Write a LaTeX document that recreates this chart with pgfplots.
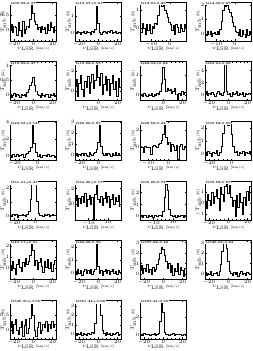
\documentclass[border=0pt]{standalone}
\usepackage{pgfplots}
\pgfplotsset{compat=1.18}
\usepgfplotslibrary{groupplots}
\usetikzlibrary{calc}
\begin{document}
\begin{tikzpicture}
\pgfplotsset{
  spec/.style={const plot mark mid, black, line width=0.45pt, mark=none},
}
\tikzset{lab/.style={anchor=north west, fill=white, inner sep=0.4pt, font=\fontsize{3.2}{3.5}\selectfont\bfseries, text=black}}
\begin{groupplot}[
  group style={group size=4 by 6, horizontal sep=18.5pt, vertical sep=20.6pt, group name=G},
  scale only axis, width=46.5pt, height=39pt,
  axis line style={line width=0.4pt},
  tick align=inside, xtick pos=both, ytick pos=both,
  major tick length=1.6pt, minor tick length=0.8pt,
  minor x tick num=4, minor y tick num=4,
  tick style={line width=0.3pt, black},
  tick label style={font=\fontsize{3.1}{3.5}\selectfont},
  label style={font=\fontsize{3.4}{4}\selectfont},
  xticklabel style={inner sep=0.7pt},
  yticklabel style={inner sep=0.6pt},
  xlabel={$v_{\mathrm{LSR}}$ [km/s]},
  ylabel={$T_{\mathrm{mb}}$ [K]},
  xlabel style={at={(axis description cs:0.5,-0.2)}, anchor=center},
  ylabel style={at={(axis description cs:-0.145,0.5)}, anchor=center},
  scaled ticks=false,
]
% P1
\nextgroupplot[xmin=-24,xmax=24,xtick={-20,0,20},ymin=-0.35,ymax=0.93,ytick={0,0.5}]
\addplot[spec] coordinates {(-24,0.05)(-22.5,0.2)(-21,-0.05)(-19.5,0.15)(-18,0.1)(-16.5,-0.15)(-15,0.25)(-13.5,0)(-12,-0.2)(-10.5,0.3)(-9,-0.1)(-7.5,0.05)(-6,0.15)(-4.5,0.1)(-3,0.35)(-1.5,0.9)(0,0.55)(1.5,0.3)(3,0.2)(4.5,0.05)(6,0.1)(7.5,-0.05)(9,0.15)(10.5,0.05)(12,0.1)(13.5,-0.1)(15,0.2)(16.5,0)(18,0.25)(19.5,0.1)(21,-0.05)(22.5,0.15)(24,0.05)};
\node[lab] at (rel axis cs:0,1) {G08.68-0.37};
% P2
\nextgroupplot[xmin=-24,xmax=24,xtick={-20,0,20},ymin=-0.5,ymax=1.85,ytick={0,1}]
\addplot[spec] coordinates {(-24,0)(-22.5,-0.05)(-21,0.1)(-19.5,0.05)(-18,-0.1)(-16.5,0)(-15,0.08)(-13.5,-0.05)(-12,0.1)(-10.5,0)(-9,0.05)(-7.5,-0.08)(-6,0.1)(-4.5,0.05)(-3,0.2)(-1.5,1.75)(0,0.6)(1.5,0.05)(3,-0.1)(4.5,0)(6,0.1)(7.5,0.05)(9,-0.05)(10.5,0.08)(12,0)(13.5,0.12)(15,-0.05)(16.5,0.05)(18,0.1)(19.5,-0.03)(21,0.05)(22.5,0)(24,0.08)};
\node[lab] at (rel axis cs:0,1) {G10.47+0.03};
% P3
\nextgroupplot[xmin=-16,xmax=9,xtick={-10,0},ymin=-0.7,ymax=1.45,ytick={0,1}]
\addplot[spec] coordinates {(-16,0.1)(-15.25,-0.2)(-14.5,0.3)(-13.75,0)(-13,-0.3)(-12.25,0.2)(-11.5,-0.1)(-10.75,0.25)(-10,-0.25)(-9.25,0.1)(-8.5,0)(-7.75,0.3)(-7,0.2)(-6.25,0.7)(-5.5,1.35)(-4.75,1.4)(-4,1.2)(-3.25,1.3)(-2.5,1.0)(-1.75,0.85)(-1,0.6)(-0.25,0.35)(0.5,0.2)(1.25,-0.1)(2,0.15)(2.75,-0.3)(3.5,0.2)(4.25,0.05)(5,-0.2)(5.75,0.25)(6.5,0)(7.25,-0.15)(8,0.2)(8.75,0.05)};
\node[lab] at (rel axis cs:0,1) {G12.91-0.26};
% P4
\nextgroupplot[xmin=-16,xmax=9,xtick={-10,0},ymin=-0.5,ymax=2.2,ytick={0,1,2}]
\addplot[spec] coordinates {(-16,0.1)(-15.25,-0.1)(-14.5,0.15)(-13.75,0)(-13,0.2)(-12.25,-0.15)(-11.5,0.05)(-10.75,0.1)(-10,-0.05)(-9.25,0.15)(-8.5,0)(-7.75,0.3)(-7,0.9)(-6.25,1.6)(-5.5,2.0)(-4.75,1.9)(-4,2.0)(-3.25,1.7)(-2.5,1.5)(-1.75,1.2)(-1,0.8)(-0.25,0.5)(0.5,0.2)(1.25,0.1)(2,-0.1)(2.75,0.3)(3.5,-0.2)(4.25,0.25)(5,0)(5.75,-0.25)(6.5,0.3)(7.25,-0.1)(8,0.2)(8.75,0.05)};
\node[lab] at (rel axis cs:0,1) {G14.33-0.65};
% P5
\nextgroupplot[xmin=-24,xmax=24,xtick={-20,0,20},ymin=-0.18,ymax=1.13,ytick={0,0.5,1}]
\addplot[spec] coordinates {(-24,0.05)(-22.5,-0.05)(-21,0)(-19.5,0.08)(-18,-0.03)(-16.5,0.02)(-15,0)(-13.5,-0.06)(-12,0.05)(-10.5,0)(-9,0.04)(-7.5,-0.02)(-6,0.1)(-4.5,0.2)(-3,0.35)(-1.5,0.45)(0,0.6)(1.5,0.35)(3,0.15)(4.5,0.05)(6,0)(7.5,-0.05)(9,0.06)(10.5,0)(12,-0.04)(13.5,0.05)(15,0.02)(16.5,-0.05)(18,0.03)(19.5,0)(21,0.06)(22.5,-0.03)(24,0.02)};
\node[lab] at (rel axis cs:0,1) {G18.89-0.47};
% P6
\nextgroupplot[xmin=-24,xmax=24,xtick={0,20},ymin=-1,ymax=3,ytick={0,2}]
\addplot[spec] coordinates {(-24,0.5)(-22.5,1.2)(-21,-0.5)(-19.5,0.8)(-18,1.6)(-16.5,0.2)(-15,-0.6)(-13.5,1.0)(-12,0.4)(-10.5,1.5)(-9,-0.2)(-7.5,0.9)(-6,1.7)(-4.5,0.3)(-3,1.1)(-1.5,2.8)(0,1.4)(1.5,0.6)(3,1.8)(4.5,-0.3)(6,0.7)(7.5,1.5)(9,0.1)(10.5,1.2)(12,-0.4)(13.5,0.8)(15,1.6)(16.5,0.2)(18,1.0)(19.5,-0.5)(21,1.3)(22.5,0.4)(24,0.9)};
\node[lab] at (rel axis cs:0,1) {G19.88-0.53};
% P7
\nextgroupplot[xmin=-24,xmax=24,xtick={0,20},ymin=-0.3,ymax=1.7,ytick={0,1}]
\addplot[spec] coordinates {(-24,0)(-22.5,0.05)(-21,-0.05)(-19.5,0.1)(-18,0)(-16.5,-0.08)(-15,0.05)(-13.5,0)(-12,0.1)(-10.5,-0.05)(-9,0.05)(-7.5,0)(-6,0.1)(-4.5,0.05)(-3,0.2)(-1.5,0.6)(0,1.4)(1.5,0.8)(3,0.2)(4.5,0.35)(6,0.25)(7.5,0.3)(9,0.1)(10.5,0.2)(12,0.35)(13.5,0.05)(15,-0.25)(16.5,0.1)(18,0)(19.5,0.2)(21,0.05)(22.5,0.15)(24,0)};
\node[lab] at (rel axis cs:0,1) {G22.04+0.22};
% P8
\nextgroupplot[xmin=-24,xmax=24,xtick={-20,0,20},ymin=-1,ymax=5.5,ytick={0,2,4}]
\addplot[spec] coordinates {(-24,0.2)(-22.5,0.5)(-21,-0.1)(-19.5,0.3)(-18,0)(-16.5,0.4)(-15,0.1)(-13.5,-0.2)(-12,0.3)(-10.5,0.5)(-9,0)(-7.5,0.2)(-6,-0.1)(-4.5,0.4)(-3,5.2)(-1.5,0.6)(0,0.1)(1.5,0.3)(3,-0.2)(4.5,0.4)(6,0)(7.5,0.3)(9,0.5)(10.5,-0.1)(12,0.2)(13.5,0.1)(15,0.4)(16.5,-0.2)(18,0.3)(19.5,0)(21,0.2)(22.5,0.2)(24,0.2)};
\node[lab] at (rel axis cs:0,1) {G23.21-0.38};
% P9
\nextgroupplot[xmin=-24,xmax=16,xtick={-20,0},ymin=-0.5,ymax=4.1,ytick={0,2,4}]
\addplot[spec] coordinates {(-24,0.1)(-22.5,-0.1)(-21,0.2)(-19.5,0)(-18,0.15)(-16.5,-0.05)(-15,0.1)(-13.5,0.2)(-12,-0.1)(-10.5,0.15)(-9,0.3)(-7.5,0.5)(-6,1.0)(-4.5,3.9)(-3,1.5)(-1.5,0.4)(0,0)(1.5,0.15)(3,-0.1)(4.5,0.1)(6,0.05)(7.5,-0.05)(9,0.2)(10.5,0)(12,0.1)(13.5,0.05)(15,-0.1)(16.5,0.1)(18,0)};
\node[lab] at (rel axis cs:0,1) {G24.33+0.14};
% P10
\nextgroupplot[xmin=-24,xmax=24,xtick={-20,0},ymin=-0.5,ymax=3.1,ytick={0,1,2,3}]
\addplot[spec] coordinates {(-24,0)(-22.5,0.1)(-21,-0.1)(-19.5,0.05)(-18,0)(-16.5,0.15)(-15,-0.05)(-13.5,0.1)(-12,0)(-10.5,-0.1)(-9,0.2)(-7.5,0.05)(-6,0)(-4.5,0.1)(-3,0.2)(-1.5,0.5)(0,1.2)(1.5,2.9)(3,0.8)(4.5,0.1)(6,0)(7.5,0.15)(9,-0.05)(10.5,0.1)(12,0.05)(13.5,-0.1)(15,0.1)(16.5,0)(18,0.2)(19.5,-0.05)(21,0.1)(22.5,0)(24,0.05)};
\node[lab] at (rel axis cs:0,1) {G28.20-0.05};
% P11
\nextgroupplot[xmin=-14,xmax=9,xtick={-10,0},ymin=-1.5,ymax=3,ytick={0,2}]
\addplot[spec] coordinates {(-16,0)(-15.25,0)(-14.5,0)(-13.75,0.1)(-13,0)(-12.25,-0.6)(-11.5,0.1)(-10.75,0)(-10,0)(-9.25,0)(-8.5,-0.8)(-7.75,0.1)(-7,0.2)(-6.25,0.1)(-5.5,0)(-4.75,0.3)(-4,0.5)(-3.25,0.8)(-2.5,1.5)(-1.75,2.6)(-1,1.2)(-0.25,0.4)(0.5,0.6)(1.25,-0.5)(2,0.3)(2.75,0.1)(3.5,-0.3)(4.25,0.2)(5,-1.4)(5.75,0.1)(6.5,0.3)(7.25,-0.2)(8,0.1)(8.75,0)};
\node[lab] at (rel axis cs:0,1) {G28.56-0.24};
% P12
\nextgroupplot[xmin=-24,xmax=18,xtick={-20,0},ymin=-0.5,ymax=2.5,ytick={0,1,2}]
\addplot[spec] coordinates {(-24,0.1)(-22.5,-0.1)(-21,0.2)(-19.5,0)(-18,-0.2)(-16.5,0.15)(-15,0)(-13.5,0.3)(-12,-0.1)(-10.5,0.1)(-9,0.6)(-7.5,1.6)(-6,2.3)(-4.5,2.4)(-3,2.2)(-1.5,2.3)(0,1.5)(1.5,0.6)(3,0.1)(4.5,0.2)(6,-0.1)(7.5,0.15)(9,0)(10.5,0.2)(12,-0.15)(13.5,0.1)(15,0.05)(16.5,0.2)(18,0)};
\node[lab] at (rel axis cs:0,1) {G30.82-0.06};
% P13
\nextgroupplot[xmin=-24,xmax=20,xtick={-20,0},ymin=-0.3,ymax=2.5,ytick={0,1,2}]
\addplot[spec] coordinates {(-24,0.05)(-22.5,-0.05)(-21,0.1)(-19.5,0)(-18,0.08)(-16.5,-0.1)(-15,0.05)(-13.5,0)(-12,0.1)(-10.5,0)(-9,-0.05)(-7.5,0.1)(-6,0.3)(-4.5,1.2)(-3,2.3)(-1.5,2.4)(0,2.3)(1.5,1.0)(3,0.2)(4.5,0)(6,0.05)(7.5,-0.05)(9,0.1)(10.5,0)(12,0.08)(13.5,-0.03)(15,0.05)(16.5,0.1)(18,0)(19.5,0.05)(21,-0.05)};
\node[lab] at (rel axis cs:0,1) {G31.41+0.31};
% P14
\nextgroupplot[xmin=-24,xmax=24,xtick={-10,10},ymin=-2,ymax=3,ytick={0,2}]
\addplot[spec] coordinates {(-24,0.5)(-22.5,1.2)(-21,-0.2)(-19.5,0.8)(-18,0.1)(-16.5,1.0)(-15,0.3)(-13.5,1.4)(-12,-0.3)(-10.5,0.6)(-9,1.1)(-7.5,0)(-6,0.9)(-4.5,-1.9)(-3,1.3)(-1.5,2.9)(0,0.7)(1.5,0.2)(3,1.0)(4.5,-0.1)(6,0.8)(7.5,1.5)(9,0.3)(10.5,1.0)(12,-0.4)(13.5,0.6)(15,1.3)(16.5,0)(18,0.9)(19.5,0.4)(21,1.2)(22.5,-0.2)(24,0.7)};
\node[lab] at (rel axis cs:0,1) {G34.26+0.15};
% P15
\nextgroupplot[xmin=-24,xmax=24,xtick={-10,10},ymin=-0.3,ymax=3,ytick={0,1,2}]
\addplot[spec] coordinates {(-24,0)(-22.5,0.1)(-21,-0.05)(-19.5,0.05)(-18,0.1)(-16.5,-0.1)(-15,0.05)(-13.5,0)(-12,0.1)(-10.5,-0.05)(-9,0.05)(-7.5,0.1)(-6,0)(-4.5,0.05)(-3,0.1)(-1.5,0)(0,0.4)(1.5,1.6)(3,2.7)(4.5,2.2)(6,0.6)(7.5,0.05)(9,0.1)(10.5,0)(12,0.05)(13.5,-0.05)(15,0.1)(16.5,0)(18,0.05)(19.5,0.1)(21,-0.05)(22.5,0.05)(24,0)};
\node[lab] at (rel axis cs:0,1) {G35.20-0.74};
% P16
\nextgroupplot[xmin=-24,xmax=24,xtick={-20,0,20},ymin=-1.5,ymax=2,ytick={-1,0,1}]
\addplot[spec] coordinates {(-24,0.2)(-22.5,-0.5)(-21,0.8)(-19.5,0.3)(-18,-0.2)(-16.5,1.0)(-15,0)(-13.5,0.6)(-12,1.2)(-10.5,0.4)(-9,-0.6)(-7.5,1.4)(-6,0.8)(-4.5,0.2)(-3,1.5)(-1.5,1.7)(0,0.9)(1.5,1.6)(3,0.5)(4.5,-0.3)(6,0.3)(7.5,-1.2)(9,0.7)(10.5,-0.4)(12,0.9)(13.5,0.1)(15,-1.0)(16.5,0.5)(18,-0.2)(19.5,1.1)(21,0.3)(22.5,1.5)(24,0.6)};
\node[lab] at (rel axis cs:0,1) {G35.58-0.03};
% P17
\nextgroupplot[xmin=-24,xmax=24,xtick={-20,0,20},ymin=-1,ymax=2.5,ytick={0,1,2}]
\addplot[spec] coordinates {(-24,0.3)(-22.5,-0.2)(-21,0.6)(-19.5,0)(-18,-0.5)(-16.5,0.4)(-15,0.8)(-13.5,0.1)(-12,-0.3)(-10.5,0.5)(-9,0.2)(-7.5,0.9)(-6,0.4)(-4.5,0.6)(-3,1.2)(-1.5,2.4)(0,1.6)(1.5,0.3)(3,0.7)(4.5,-0.1)(6,0.5)(7.5,0.9)(9,0.2)(10.5,-0.4)(12,0.6)(13.5,0.1)(15,0.8)(16.5,0)(18,0.5)(19.5,-0.3)(21,0.4)(22.5,0.7)(24,0.2)};
\node[lab] at (rel axis cs:0,1) {G43.17+0.01};
% P18
\nextgroupplot[xmin=-24,xmax=24,xtick={-20,0,20},ymin=-0.5,ymax=2.5,ytick={0,1,2}]
\addplot[spec] coordinates {(-24,0.1)(-22.5,-0.1)(-21,0.3)(-19.5,0)(-18,0.2)(-16.5,-0.2)(-15,0.15)(-13.5,0.3)(-12,-0.05)(-10.5,0.2)(-9,0)(-7.5,0.25)(-6,-0.1)(-4.5,0.1)(-3,0.3)(-1.5,2.4)(0,0.5)(1.5,0)(3,0.2)(4.5,-0.15)(6,0.1)(7.5,0.3)(9,0)(10.5,0.2)(12,-0.1)(13.5,0.15)(15,0.25)(16.5,0)(18,0.1)(19.5,-0.1)(21,0.2)(22.5,0.05)(24,0.1)};
\node[lab] at (rel axis cs:0,1) {G49.49-0.39};
% P19
\nextgroupplot[xmin=-24,xmax=24,xtick={-20,0,20},ymin=-0.5,ymax=3.2,ytick={0,1,2,3}]
\addplot[spec] coordinates {(-24,0.4)(-22.5,0.8)(-21,0.1)(-19.5,0.6)(-18,0.3)(-16.5,0.9)(-15,0.2)(-13.5,0.5)(-12,0)(-10.5,0.7)(-9,0.3)(-7.5,0.5)(-6,0.9)(-4.5,1.4)(-3,2.0)(-1.5,2.6)(0,2.4)(1.5,1.8)(3,1.2)(4.5,0.6)(6,1.0)(7.5,0.2)(9,0.8)(10.5,-0.1)(12,0.6)(13.5,0.3)(15,1.0)(16.5,0)(18,0.7)(19.5,0.4)(21,-0.2)(22.5,0.6)(24,0.3)};
\node[lab] at (rel axis cs:0,1) {G337.92-0.46};
% P20
\nextgroupplot[xmin=-24,xmax=24,xtick={-20,0,20},ymin=-0.5,ymax=3.2,ytick={0,1,2,3}]
\addplot[spec] coordinates {(-24,0.2)(-22.5,-0.1)(-21,0.1)(-19.5,0)(-18,0.25)(-16.5,-0.15)(-15,0.1)(-13.5,0.05)(-12,0.2)(-10.5,-0.1)(-9,0.3)(-7.5,0.9)(-6,2.2)(-4.5,3.0)(-3,2.9)(-1.5,2.5)(0,1.2)(1.5,0.3)(3,0.1)(4.5,-0.1)(6,0.2)(7.5,0)(9,0.15)(10.5,-0.2)(12,0.1)(13.5,0.25)(15,0)(16.5,0.1)(18,-0.1)(19.5,0.2)(21,0.05)(22.5,0)(24,0.1)};
\node[lab] at (rel axis cs:0,1) {G340.05-0.24};
% P21
\nextgroupplot[xmin=-24,xmax=24,xtick={-20,0,20},ymin=-0.3,ymax=1.0,ytick={0,0.5}]
\addplot[spec] coordinates {(-24,0.1)(-22.5,0.3)(-21,-0.1)(-19.5,0.2)(-18,0.35)(-16.5,0)(-15,-0.15)(-13.5,0.1)(-12,0.3)(-10.5,-0.2)(-9,0.15)(-7.5,0.35)(-6,-0.1)(-4.5,0.05)(-3,0.4)(-1.5,0.95)(0,0.5)(1.5,0)(3,-0.2)(4.5,0.1)(6,0.25)(7.5,-0.1)(9,0)(10.5,0.2)(12,0.1)(13.5,0.3)(15,-0.05)(16.5,0.2)(18,0.05)(19.5,0.3)(21,0.1)(22.5,0.2)(24,0)};
\node[lab] at (rel axis cs:0,1) {G345.50+0.35};
% P22
\nextgroupplot[xmin=-24,xmax=24,xtick={-20,0,20},ymin=-0.5,ymax=3.6,ytick={0,1,2,3}]
\addplot[spec] coordinates {(-24,0.1)(-22.5,-0.1)(-21,0.15)(-19.5,0)(-18,0.2)(-16.5,-0.05)(-15,0.1)(-13.5,0)(-12,-0.1)(-10.5,0.15)(-9,0.05)(-7.5,0)(-6,0.2)(-4.5,0.1)(-3,1.2)(-1.5,3.4)(0,3.3)(1.5,3.4)(3,2.0)(4.5,0.4)(6,0.1)(7.5,-0.1)(9,0.2)(10.5,0)(12,0.1)(13.5,-0.05)(15,0.15)(16.5,0)(18,0.1)(19.5,0.2)(21,-0.1)(22.5,0.05)(24,0.1)};
\node[lab] at (rel axis cs:0,1) {G351.44+0.66};
% P23
\nextgroupplot[xmin=-24,xmax=24,xtick={-20,0,20},ymin=-0.5,ymax=4,ytick={0,2}]
\addplot[spec] coordinates {(-24,0)(-22.5,0.1)(-21,-0.1)(-19.5,0.15)(-18,0)(-16.5,0.05)(-15,0.1)(-13.5,-0.05)(-12,0.1)(-10.5,0)(-9,0.15)(-7.5,-0.1)(-6,0.05)(-4.5,0.2)(-3,1.5)(-1.5,3.8)(0,2.6)(1.5,0.3)(3,0)(4.5,0.1)(6,-0.05)(7.5,0.1)(9,0)(10.5,0.15)(12,-0.1)(13.5,0.05)(15,0.1)(16.5,0)(18,0.1)(19.5,-0.05)(21,0.1)(22.5,0)(24,0.05)};
\node[lab] at (rel axis cs:0,1) {G353.41-0.36};
\end{groupplot}
\pgfresetboundingbox
\path[use as bounding box] ($(G c1r1.north west)+(-10pt,2pt)$) rectangle ($(G c1r1.north west)+(243pt,-349pt)$);
\end{tikzpicture}
\end{document}
